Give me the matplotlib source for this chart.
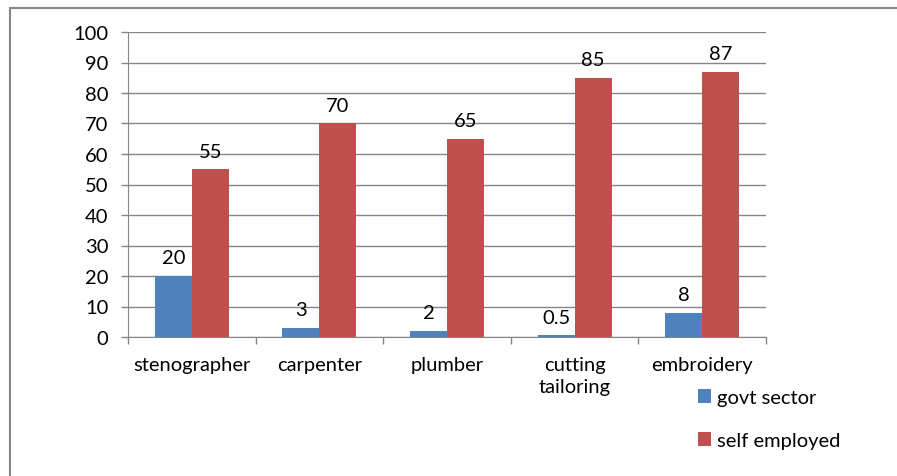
import matplotlib
matplotlib.use('Agg')
import matplotlib.pyplot as plt
import numpy as np
from matplotlib.patches import Rectangle

categories = ['stenographer', 'carpenter', 'plumber', 'cutting\ntailoring', 'embroidery']
govt_sector = [20, 3, 2, 0.5, 8]
self_employed = [55, 70, 65, 85, 87]
label_govt = ['20', '3', '2', '0.5', '8']
label_self = ['55', '70', '65', '85', '87']
yticks = [0, 10, 20, 30, 40, 50, 60, 70, 80, 90, 100]

plt.rcParams['font.family'] = ['Lato', 'DejaVu Sans']
fs = 14.5

fig = plt.figure(figsize=(8.97, 4.77), dpi=100)
ax = fig.add_axes([128 / 897, 139 / 477, 638 / 897, 305 / 477])

# outer chart border
fig.patches.append(Rectangle((10 / 897, -0.1), 1.2, (468 / 477) + 0.1,
                             transform=fig.transFigure, fill=False,
                             edgecolor='#868686', linewidth=1.5))

x = np.arange(len(categories))
w = 0.29
b1 = ax.bar(x - w / 2, govt_sector, w, color='#4f81bd', label='govt sector', zorder=3)
b2 = ax.bar(x + w / 2, self_employed, w, color='#c0504d', label='self employed', zorder=3)

for rect, txt in zip(b1, label_govt):
    ax.annotate(txt, (rect.get_x() + rect.get_width() / 2, rect.get_height()),
                xytext=(0, 7), textcoords='offset points', ha='center', va='bottom', fontsize=fs)
for rect, txt in zip(b2, label_self):
    ax.annotate(txt, (rect.get_x() + rect.get_width() / 2, rect.get_height()),
                xytext=(0, 7), textcoords='offset points', ha='center', va='bottom', fontsize=fs)

ax.set_xlim(-0.5, len(categories) - 0.5)
ax.set_ylim(0, 100)
ax.set_yticks(yticks)
ax.set_xticks(x)
ax.set_xticklabels(categories, fontsize=fs, va='top', linespacing=1.35)
ax.set_xticks(np.arange(len(categories) + 1) - 0.5, minor=True)
ax.tick_params(axis='x', which='major', length=0, pad=14)
ax.tick_params(axis='x', which='minor', length=5, color='#868686', width=1, direction='out')
ax.tick_params(axis='y', length=5, color='#868686', width=1, labelsize=fs, pad=9)

ax.grid(axis='y', color='#868686', linewidth=1, zorder=0)
for side in ['top', 'right']:
    ax.spines[side].set_visible(False)
ax.spines['left'].set_color('#868686')
ax.spines['bottom'].set_color('#868686')

ax.legend(loc='upper left', bbox_to_anchor=(698 / 897, (477 - 390) / 477), bbox_transform=fig.transFigure,
          frameon=False, fontsize=fs, handlelength=0.65, handleheight=0.65, handletextpad=0.3,
          labelspacing=1.3, borderpad=0, borderaxespad=0)

fig.savefig('out.png', dpi=100)
